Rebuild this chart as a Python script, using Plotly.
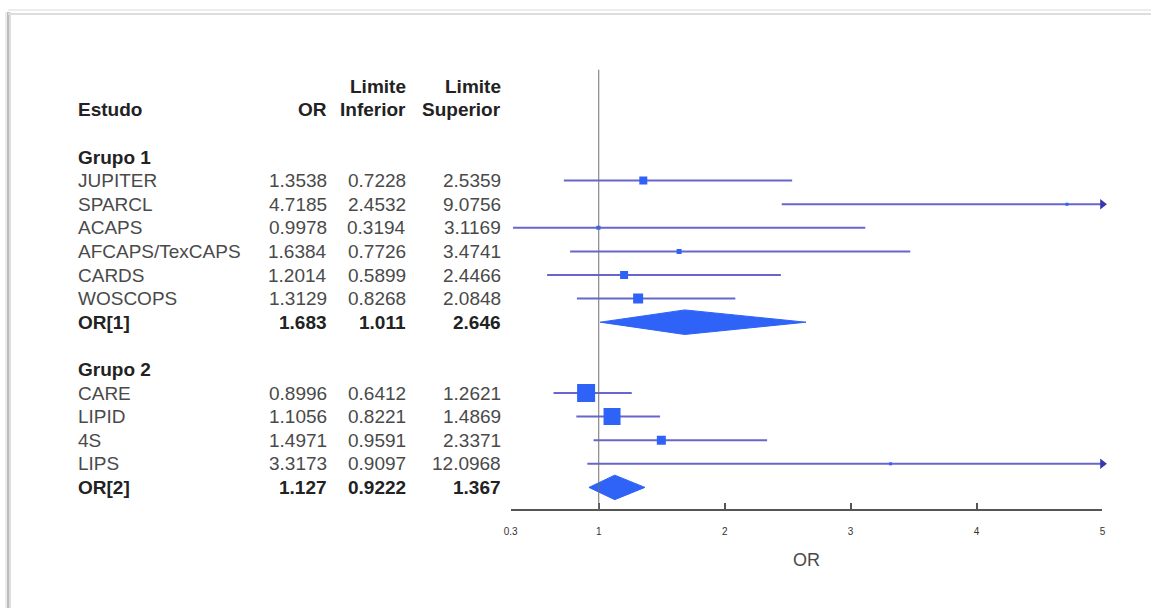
import plotly.graph_objects as go

# Study data (odds ratio with 95% limits)
studies_g1 = ["JUPITER", "SPARCL", "ACAPS", "AFCAPS/TexCAPS", "CARDS", "WOSCOPS"]
or_g1 = [1.3538, 4.7185, 0.9978, 1.6384, 1.2014, 1.3129]
lo_g1 = [0.7228, 2.4532, 0.3194, 0.7726, 0.5899, 0.8268]
hi_g1 = [2.5359, 9.0756, 3.1169, 3.4741, 2.4466, 2.0848]
or_g1_txt = ["1.3538", "4.7185", "0.9978", "1.6384", "1.2014", "1.3129"]
lo_g1_txt = ["0.7228", "2.4532", "0.3194", "0.7726", "0.5899", "0.8268"]
hi_g1_txt = ["2.5359", "9.0756", "3.1169", "3.4741", "2.4466", "2.0848"]

studies_g2 = ["CARE", "LIPID", "4S", "LIPS"]
or_g2 = [0.8996, 1.1056, 1.4971, 3.3173]
lo_g2 = [0.6412, 0.8221, 0.9591, 0.9097]
hi_g2 = [1.2621, 1.4869, 2.3371, 12.0968]
or_g2_txt = ["0.8996", "1.1056", "1.4971", "3.3173"]
lo_g2_txt = ["0.6412", "0.8221", "0.9591", "0.9097"]
hi_g2_txt = ["1.2621", "1.4869", "2.3371", "12.0968"]

pooled_labels = ["OR[1]", "OR[2]"]
pooled_or = [1.683, 1.127]
pooled_lo = [1.011, 0.9222]
pooled_hi = [2.646, 1.367]
pooled_or_txt = ["1.683", "1.127"]
pooled_lo_txt = ["1.011", "0.9222"]
pooled_hi_txt = ["2.646", "1.367"]

group_labels = ["Grupo 1", "Grupo 2"]
tick_vals = [0.3, 1, 2, 3, 4, 5]
tick_text = ["0.3", "1", "2", "3", "4", "5"]
x_min, x_max = 0.3, 5

# ---- layout / style ----
W, H = 1154, 608
ROW0_PX, ROW_PX = 157, 23.6          # pixel of row 0 and row pitch
FONT = "Liberation Sans, Arial, sans-serif"
TXT = "#4a4a4a"
TXT_B = "#222222"
LINE_C = "#6666cc"
MARK_C = "#2f63f7"
sizes_g1 = [8, 3, 4, 5, 8, 10]
sizes_g2 = [18, 17, 9, 3]

rows_g1 = list(range(1, 1 + len(studies_g1)))
row_p1 = rows_g1[-1] + 1
row_grp2 = row_p1 + 2
rows_g2 = list(range(row_grp2 + 1, row_grp2 + 1 + len(studies_g2)))
row_p2 = rows_g2[-1] + 1
row_axis = row_p2 + 0.96

fig = go.Figure()


def add_study(rows, ors, los, his, sizes):
    for r, o, lo, hi, s in zip(rows, ors, los, his, sizes):
        end = min(hi, x_max)
        fig.add_trace(go.Scatter(x=[max(lo, x_min), end], y=[r, r], mode="lines",
                                 line=dict(color=LINE_C, width=2),
                                 hoverinfo="skip", showlegend=False))
        if hi > x_max:
            fig.add_trace(go.Scatter(x=[end], y=[r], mode="markers",
                                     marker=dict(symbol="triangle-right", size=9,
                                                 color="#3838b0"),
                                     cliponaxis=False, showlegend=False))
        fig.add_trace(go.Scatter(x=[o], y=[r], mode="markers",
                                 marker=dict(symbol="square", size=s, color=MARK_C,
                                             line=dict(width=0)),
                                 showlegend=False))


add_study(rows_g1, or_g1, lo_g1, hi_g1, sizes_g1)
add_study(rows_g2, or_g2, lo_g2, hi_g2, sizes_g2)

# pooled diamonds
for r, o, lo, hi in zip([row_p1, row_p2], pooled_or, pooled_lo, pooled_hi):
    h = 0.52
    fig.add_trace(go.Scatter(x=[lo, o, hi, o, lo], y=[r, r - h, r, r + h, r],
                             mode="lines", fill="toself", fillcolor=MARK_C,
                             line=dict(color=MARK_C, width=1),
                             showlegend=False, hoverinfo="skip"))

# null line at OR = 1
fig.add_shape(type="line", xref="x", yref="y", x0=1, x1=1, y0=-3.7, y1=row_axis,
              line=dict(color="#707070", width=1))

# ---- table text ----
X_NAME, X_OR, X_LO, X_HI = 70, 325, 405, 500
ann = []


def txt(xpx, row, s, bold=False, anchor="right"):
    ann.append(dict(xref="paper", yref="y", x=xpx / W, y=row, text=f"<b>{s}</b>" if bold else s,
                    showarrow=False, xanchor=anchor, yanchor="middle",
                    font=dict(family=FONT, size=19, color=TXT_B if bold else TXT)))


txt(X_NAME, -2, "Estudo", True, "left")
txt(X_OR, -2, "OR", True)
txt(X_LO, -3, "Limite", True)
txt(X_LO, -2, "Inferior", True)
txt(X_HI, -3, "Limite", True)
txt(X_HI, -2, "Superior", True)

txt(X_NAME, 0, group_labels[0], True, "left")
for r, n, a, b, c in zip(rows_g1, studies_g1, or_g1_txt, lo_g1_txt, hi_g1_txt):
    txt(X_NAME, r, n, anchor="left"); txt(X_OR, r, a); txt(X_LO, r, b); txt(X_HI, r, c)
txt(X_NAME, row_p1, pooled_labels[0], True, "left")
txt(X_OR, row_p1, pooled_or_txt[0], True)
txt(X_LO, row_p1, pooled_lo_txt[0], True)
txt(X_HI, row_p1, pooled_hi_txt[0], True)

txt(X_NAME, row_grp2, group_labels[1], True, "left")
for r, n, a, b, c in zip(rows_g2, studies_g2, or_g2_txt, lo_g2_txt, hi_g2_txt):
    txt(X_NAME, r, n, anchor="left"); txt(X_OR, r, a); txt(X_LO, r, b); txt(X_HI, r, c)
txt(X_NAME, row_p2, pooled_labels[1], True, "left")
txt(X_OR, row_p2, pooled_or_txt[1], True)
txt(X_LO, row_p2, pooled_lo_txt[1], True)
txt(X_HI, row_p2, pooled_hi_txt[1], True)

# page frame with soft shadow on top and left edges
FX, FY = 1, 12
shapes = []
for off, col, wd in [(0, "#bdbdbd", 2), (2, "#dddddd", 2), (-2, "#ececec", 2)]:
    shapes.append(dict(type="line", xref="paper", yref="paper",
                       x0=FX / W, x1=1, y0=1 - (FY + off) / H, y1=1 - (FY + off) / H,
                       line=dict(color=col, width=wd), layer="below"))
    shapes.append(dict(type="line", xref="paper", yref="paper",
                       x0=(FX + off) / W, x1=(FX + off) / W, y0=0, y1=1 - FY / H,
                       line=dict(color=col, width=wd), layer="below"))

y_top = -(ROW0_PX) / ROW_PX
y_bot = (H - ROW0_PX) / ROW_PX
axis_pos = 1 - (ROW0_PX + row_axis * ROW_PX) / H

fig.update_layout(
    width=W, height=H, margin=dict(l=0, r=0, t=0, b=0),
    paper_bgcolor="white", plot_bgcolor="rgba(0,0,0,0)",
    annotations=ann + [dict(xref="x", yref="paper", x=(x_min + x_max) / 2,
                            y=1 - 560 / H, text="OR", showarrow=False,
                            xanchor="center", yanchor="middle",
                            font=dict(family=FONT, size=18, color=TXT))],
    shapes=shapes,
    xaxis=dict(domain=[508 / W, 1105 / W], range=[x_min, x_max], anchor="free",
               position=axis_pos, showgrid=False, zeroline=False, showline=True,
               linecolor="#555555", linewidth=1.5, ticks="inside", ticklen=6,
               tickwidth=1.5, tickcolor="#555555", tickvals=tick_vals, ticktext=tick_text,
               ticklabelstandoff=12,
               tickfont=dict(family=FONT, size=10, color="#333333")),
    yaxis=dict(domain=[0, 1], range=[y_bot, y_top], visible=False),
)

fig.write_html("out.html", post_script="document.body.style.margin='0';")
